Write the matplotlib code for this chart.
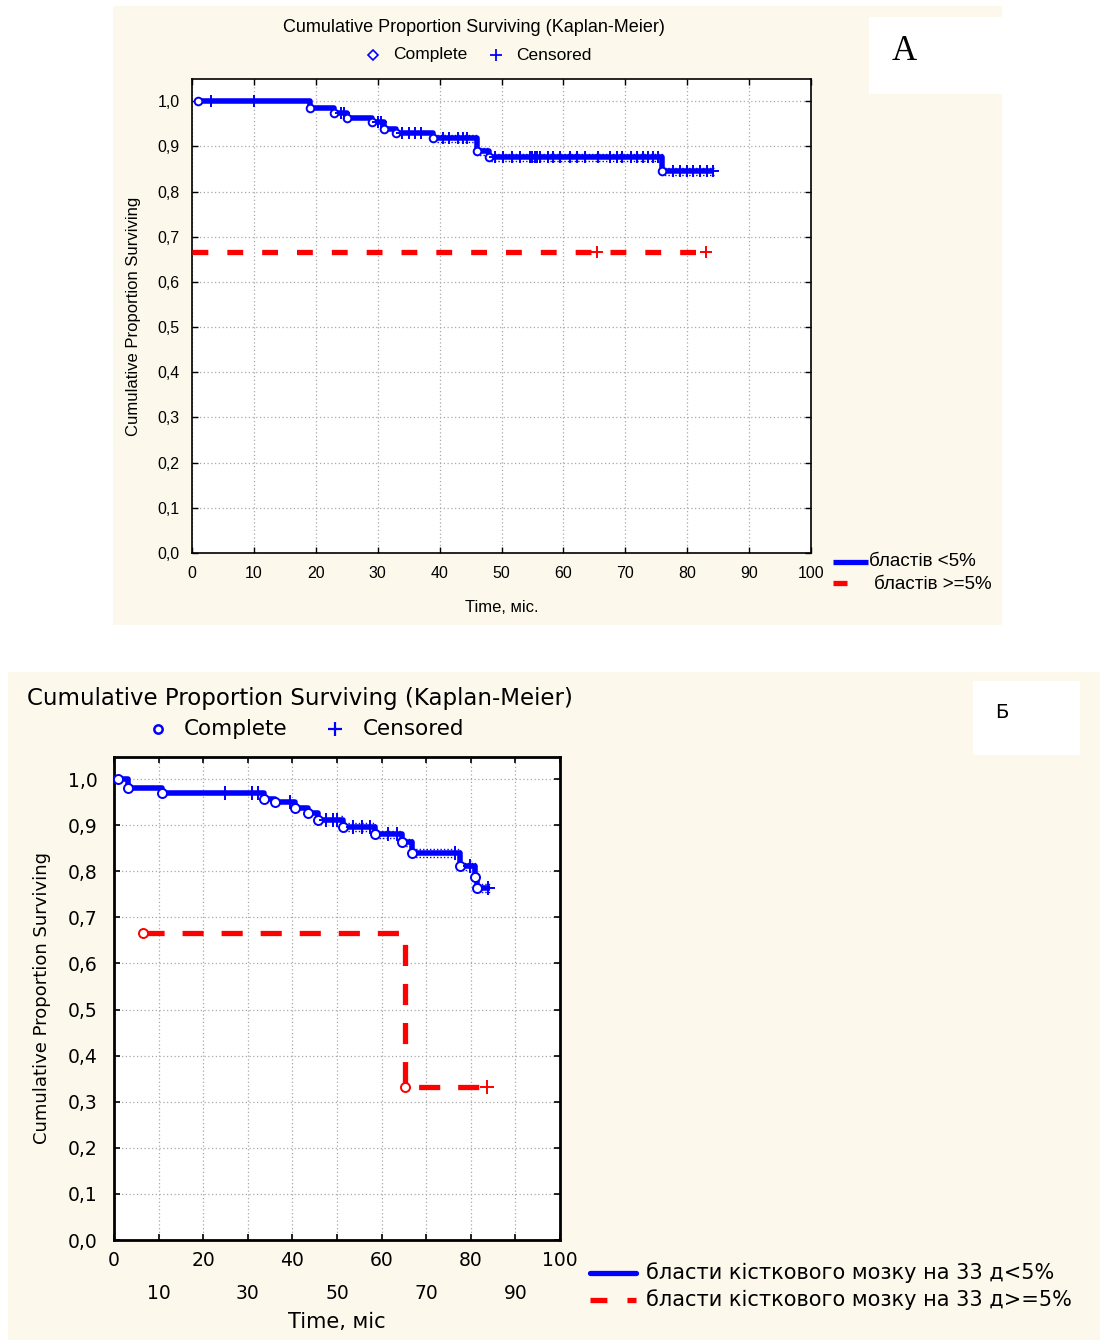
import numpy as np
import matplotlib
matplotlib.use("Agg")
import matplotlib.pyplot as plt
from matplotlib.patches import Rectangle
from matplotlib.lines import Line2D
from matplotlib.ticker import FuncFormatter

# --- panel A: blasts <5% vs >=5% ---
a_low_event_t = [1, 19, 23, 25, 29, 31, 33, 39, 46, 48, 76]
a_low_event_s = [1.0, 0.984, 0.973, 0.962, 0.953, 0.938, 0.929, 0.918, 0.889, 0.876, 0.845]
a_low_cens_t = [3, 10, 24, 24.5, 30, 30.5, 34, 35, 36, 37, 40.5, 41.5, 43, 43.8, 44.4,
                49, 50.2, 51.7, 53, 54.6, 55, 55.4, 55.8, 56.2, 57.5, 58.3, 59.5, 61,
                62.2, 63.5, 65.6, 67.5, 68.7, 69.5, 71, 71.9, 72.8, 73.7, 74.5, 75.3,
                77.7, 78.8, 80, 81, 82, 83.2, 84.2]
a_low_end = 84.3

a_high_event_t = [0]
a_high_event_s = [0.667]
a_high_cens_t = [65.5, 83.0]
a_high_end = 83.0

# --- panel B: bone marrow blasts on day 33 ---
b_low_event_t = [1, 3.2, 10.7, 33.6, 36, 40.6, 43.5, 45.7, 51.3, 58.5, 64.5, 66.8, 77.6, 81, 81.4]
b_low_event_s = [1.0, 0.98, 0.97, 0.957, 0.95, 0.937, 0.926, 0.911, 0.896, 0.88, 0.863,
                 0.84, 0.811, 0.788, 0.764]
b_low_cens_t = [24.9, 31, 32.3, 39.5, 47.5, 49, 50, 53.6, 55.6, 57.4, 61.4, 63.5, 76.5,
                79.8, 83.9]
b_low_end = 84.2

b_high_event_t = [6.5, 65.2]
b_high_event_s = [0.667, 0.333]
b_high_cens_t = [83.6]
b_high_end = 84.3

x_ticks = list(range(0, 101, 10))
y_ticks = [round(v, 1) for v in np.arange(0, 1.01, 0.1)]

labels_a = ["бластів <5%", "бластів >=5%"]
labels_b = ["бласти кісткового мозку на 33 д<5%", "бласти кісткового мозку на 33 д>=5%"]

CREAM = "#FDF8EC"
BLUE = "#0000FF"
RED = "#FF0000"
NARROW = ["Liberation Sans", "DejaVu Sans"]
WIDE = ["DejaVu Sans"]

W, H = 1100, 1340
fig = plt.figure(figsize=(W / 100, H / 100), dpi=100)
fig.patch.set_facecolor("white")


def fx(x):
    return x / W


def fy(y):
    return 1 - y / H


def box(x0, y0, x1, y1, color):
    fig.add_artist(Rectangle((fx(x0), fy(y1)), fx(x1 - x0), (y1 - y0) / H,
                             transform=fig.transFigure, facecolor=color,
                             edgecolor="none", zorder=-10))


def km_value(times, surv, t):
    i = np.searchsorted(times, t, side="right") - 1
    return surv[max(i, 0)]


def draw_curve(ax, ev_t, ev_s, cens_t, end, color, ls, lw, msize, band=None,
               show_first=True):
    xs = list(ev_t) + [end]
    ys = list(ev_s) + [ev_s[-1]]
    ax.step(xs, ys, where="post", color=color, lw=lw, ls=ls, zorder=4,
            solid_capstyle="butt", dash_capstyle="butt")
    if band is not None:
        start, off = band
        bx = [start] + [t for t in ev_t if t > start] + [end]
        by = [km_value(ev_t, ev_s, start)] + [s for t, s in zip(ev_t, ev_s) if t > start]
        by = by + [by[-1]]
        for sgn in (1, -1):
            ax.step(bx, [v + sgn * off for v in by], where="post", color=color,
                    lw=1.0, ls=(0, (1, 1.5)), zorder=3)
    mt = ev_t if show_first else ev_t[1:]
    ms = ev_s if show_first else ev_s[1:]
    ax.plot(mt, ms, ls="none", marker="o", ms=msize, mfc="white", mec=color,
            mew=1.4, zorder=5)
    cv = [km_value(ev_t, ev_s, c) for c in cens_t]
    ax.plot(cens_t, cv, ls="none", marker="+", ms=msize + 3, mec=color, mew=1.4,
            zorder=5)


comma = FuncFormatter(lambda v, p: f"{v:.1f}".replace(".", ","))

# ---------------- panel A ----------------
box(113, 6, 1002, 625, CREAM)
box(869, 17, 1002, 94, "white")
fig.text(fx(904), fy(52), "A", fontsize=25, family="Liberation Serif",
         ha="center", va="center")

axA = fig.add_axes([fx(192), fy(553), fx(811 - 192), (553 - 79) / H])
axA.set_xlim(0, 100)
axA.set_ylim(0, 1.049)
axA.set_xticks(x_ticks)
axA.set_yticks(y_ticks)
axA.yaxis.set_major_formatter(comma)
axA.grid(True, color="#A8A8A8", ls=(0, (1, 2)), lw=0.9)
axA.tick_params(direction="in", top=True, right=True, length=4, width=1,
                labelsize=11.5, pad=9)
for lab in axA.get_xticklabels() + axA.get_yticklabels():
    lab.set_family(NARROW)
for s in axA.spines.values():
    s.set_linewidth(1.2)
axA.set_axisbelow(True)

draw_curve(axA, a_low_event_t, a_low_event_s, a_low_cens_t, a_low_end, BLUE, "-",
           4.0, 5.5, band=(39.5, 0.008))
draw_curve(axA, a_high_event_t, a_high_event_s, a_high_cens_t, a_high_end, RED,
           (0, (3.0, 3.6)), 3.8, 5.5, show_first=False)

axA.set_xlabel("Time, міс.", family=NARROW, fontsize=12, labelpad=14)
axA.set_ylabel("Cumulative Proportion Surviving", family=NARROW, fontsize=12,
               labelpad=12)

fig.text(fx(474), fy(28), "Cumulative Proportion Surviving (Kaplan-Meier)",
         family=NARROW, fontsize=13, ha="center", va="center")
fig.add_artist(Line2D([fx(373)], [fy(55)], marker="D", ms=5, mfc="white",
                      mec=BLUE, mew=1.2, transform=fig.transFigure))
fig.text(fx(393), fy(55), "Complete", family=NARROW, fontsize=12.5, va="center")
fig.add_artist(Line2D([fx(496)], [fy(55)], marker="+", ms=9, mec=BLUE, mew=1.3,
                      transform=fig.transFigure))
fig.text(fx(516), fy(55), "Censored", family=NARROW, fontsize=12.5, va="center")

fig.add_artist(Line2D([fx(833), fx(868)], [fy(562), fy(562)], color=BLUE, lw=3.8,
                      solid_capstyle="butt", transform=fig.transFigure))
fig.text(fx(869), fy(562), labels_a[0], family=NARROW, fontsize=13.5, va="center")
fig.add_artist(Line2D([fx(833), fx(847)], [fy(583), fy(583)], color=RED, lw=3.8,
                      solid_capstyle="butt", transform=fig.transFigure))
fig.text(fx(874), fy(584), labels_a[1], family=NARROW, fontsize=13.5, va="center")

# ---------------- panel B ----------------
box(8, 672, 1100, 1340, CREAM)
box(973, 681, 1080, 755, "white")
fig.text(fx(1002), fy(712), "Б", fontsize=14, family="DejaVu Sans",
         ha="center", va="center")

axB = fig.add_axes([fx(114), fy(1240), fx(560 - 114), (1240 - 757) / H])
axB.set_xlim(0, 100)
axB.set_ylim(0, 1.048)
axB.set_xticks(x_ticks[::2])
axB.set_xticks(x_ticks[1::2], minor=True)
axB.set_xticklabels([str(v) for v in x_ticks[::2]])
axB.set_xticklabels([str(v) for v in x_ticks[1::2]], minor=True)
axB.set_yticks(y_ticks)
axB.yaxis.set_major_formatter(comma)
axB.grid(True, which="both", color="#A8A8A8", ls=(0, (1, 2)), lw=0.9)
axB.tick_params(axis="both", which="both", direction="in", top=True, right=True,
                length=4, width=1.2, labelsize=13.5)
axB.tick_params(axis="x", which="major", pad=8)
axB.tick_params(axis="x", which="minor", pad=32)
axB.tick_params(axis="y", pad=12)
for s in axB.spines.values():
    s.set_linewidth(2)
axB.set_axisbelow(True)

draw_curve(axB, b_low_event_t, b_low_event_s, b_low_cens_t, b_low_end, BLUE, "-",
           4.0, 6.5, band=(51, 0.008))
draw_curve(axB, b_high_event_t, b_high_event_s, b_high_cens_t, b_high_end, RED,
           (0, (4.0, 3.4)), 3.8, 6.5)

axB.set_xlabel("Time, міс", family=WIDE, fontsize=15, labelpad=6)
axB.set_ylabel("Cumulative Proportion Surviving", family=WIDE, fontsize=13,
               labelpad=12)

fig.text(fx(27), fy(698), "Cumulative Proportion Surviving (Kaplan-Meier)",
         family=WIDE, fontsize=16.5, va="center")
fig.add_artist(Line2D([fx(158)], [fy(729)], marker="o", ms=6, mfc="white",
                      mec=BLUE, mew=1.8, transform=fig.transFigure))
fig.text(fx(184), fy(729), "Complete", family=WIDE, fontsize=15.5, va="center")
fig.add_artist(Line2D([fx(335)], [fy(729)], marker="+", ms=10, mec=BLUE, mew=1.6,
                      transform=fig.transFigure))
fig.text(fx(363), fy(729), "Censored", family=WIDE, fontsize=15.5, va="center")

fig.add_artist(Line2D([fx(590), fx(636)], [fy(1273), fy(1273)], color=BLUE, lw=3.8,
                      solid_capstyle="round", transform=fig.transFigure))
fig.text(fx(646), fy(1273), labels_b[0], family=WIDE, fontsize=15, va="center")
fig.add_artist(Line2D([fx(590), fx(636)], [fy(1300), fy(1300)], color=RED, lw=3.8,
                      ls=(0, (3.2, 3.8)), transform=fig.transFigure))
fig.text(fx(646), fy(1300), labels_b[1], family=WIDE, fontsize=15, va="center")

fig.savefig("out.png", dpi=100)
